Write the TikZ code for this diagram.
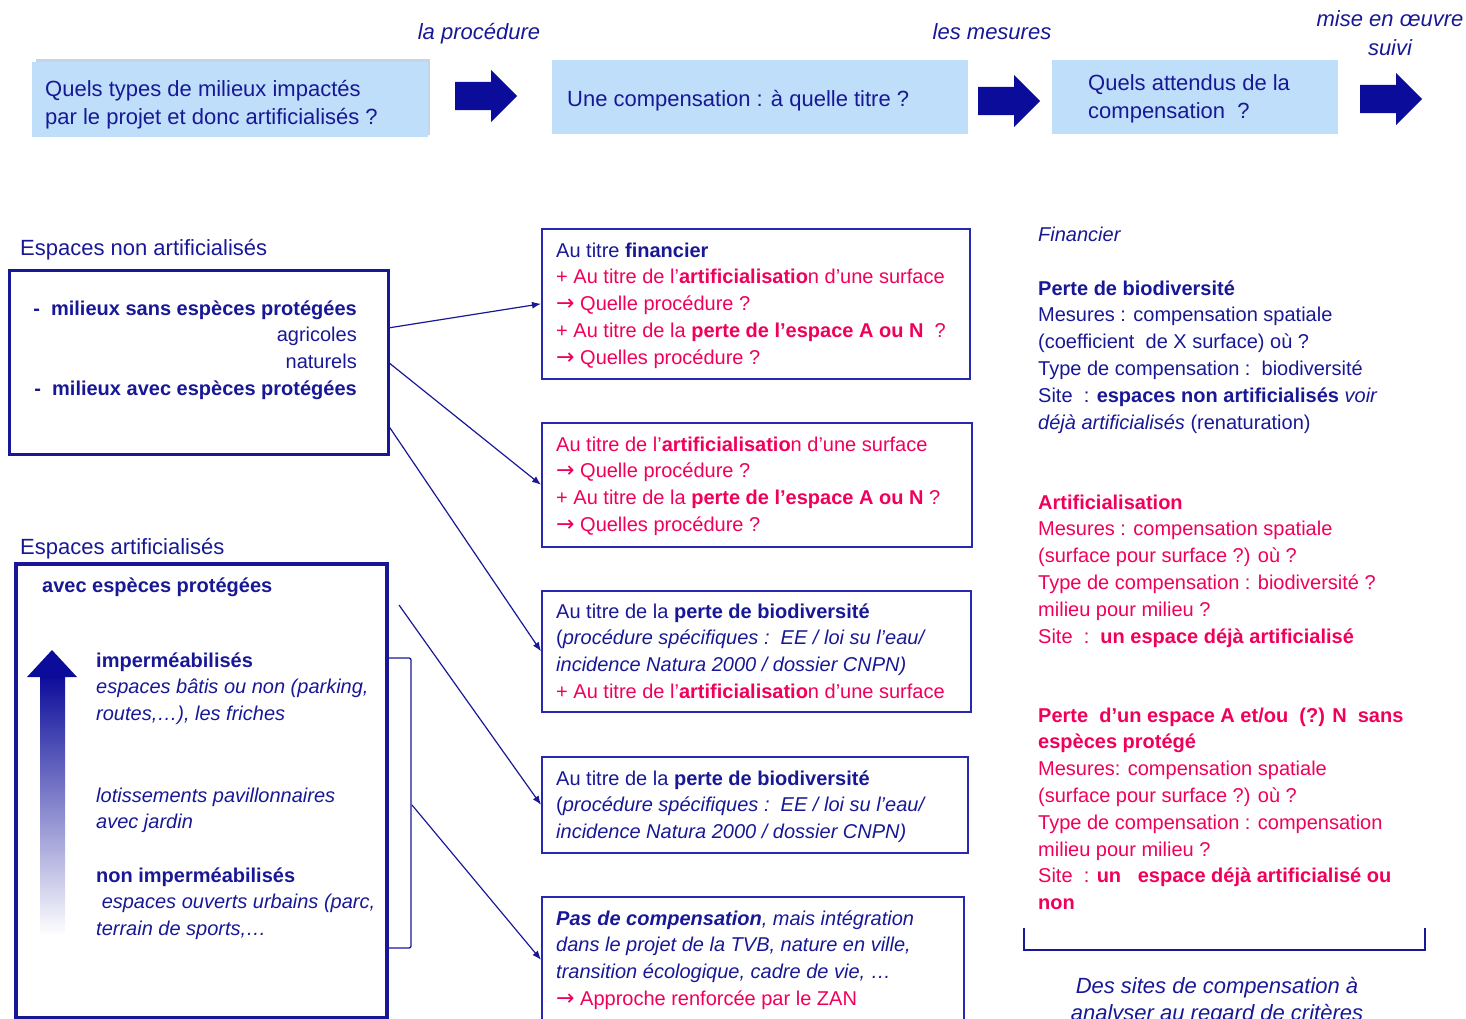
\documentclass[tikz,border=0pt]{standalone}
\usepackage{fontspec}
\setmainfont{Liberation Sans}
\newfontfamily\arrowfont{DejaVu Sans}
\usepackage{xcolor}
\usetikzlibrary{shapes.arrows,arrows.meta}

\definecolor{navy}{RGB}{24,24,150}
\definecolor{pinkred}{RGB}{240,0,90}
\definecolor{paleblue}{RGB}{190,222,250}
\definecolor{shadowblue}{RGB}{198,212,232}
\definecolor{arrowblue}{RGB}{12,12,155}
\definecolor{frameblue}{RGB}{40,40,178}

\newcommand{\rose}[1]{\textcolor{pinkred}{#1}}
\newcommand{\pto}{{\arrowfont\fontsize{22}{26.8}\selectfont →}\ }

\begin{document}
\begin{tikzpicture}[x=1pt, y=-1pt,
  txt/.style={font=\fontsize{20}{26.8}\selectfont, text=navy, inner sep=0pt, align=left, anchor=base west},
  pk/.style={txt, text=pinkred},
  big/.style={font=\fontsize{22}{28}\selectfont, text=navy, inner sep=0pt, align=left, anchor=base west},
  topbox/.style={fill=paleblue, draw=none, anchor=north west, inner sep=0pt},
  midbox/.style={draw=frameblue, line width=1.6pt, anchor=north west, inner sep=0pt},
  thickbox/.style={draw=navy, line width=3pt, anchor=north west, inner sep=0pt},
  bigarrow/.style={single arrow, fill=arrowblue, draw=none, anchor=tail, minimum height=62pt, inner xsep=0pt, inner ysep=14pt, single arrow head extend=12pt, single arrow head indent=0pt},
  link/.style={draw=navy, line width=1.2pt, -{Latex[length=9pt,width=7pt]}}]
\useasboundingbox (0,0) rectangle (1466,1018);

% top row (multi-line nodes sit on the base of their last line)
\node[big, anchor=base, font=\fontsize{22}{28}\selectfont\itshape] (lproc) at (479,39) {la procédure};
\node[big, anchor=base, font=\fontsize{22}{28}\selectfont\itshape] (lmes) at (992,39) {les mesures};
\node[big, anchor=base, align=center, font=\fontsize{22}{29}\selectfont\itshape] (lsuivi) at (1390,55) {mise en œuvre\\suivi};

\fill[shadowblue] (36,59) rectangle (430,135);
\node[topbox, minimum width=396pt, minimum height=75pt] (q1) at (32,62) {};
\node[big] (q1t) at (45,124) {Quels types de milieux impactés\\par le projet et donc artificialisés ?};
\node[topbox, minimum width=416pt, minimum height=74pt] (q2) at (552,60) {};
\node[big] (q2t) at (567,106) {Une compensation : à quelle titre ?};
\node[topbox, minimum width=286pt, minimum height=74pt] (q3) at (1052,60) {};
\node[big] (q3t) at (1088,118) {Quels attendus de la\\compensation\ \ ?};

\node[bigarrow] (a1) at (455,96) {};
\node[bigarrow] (a2) at (978,101) {};
\node[bigarrow] (a3) at (1360,99) {};

% left column
\node[big] (lna) at (20,255) {Espaces non artificialisés};
\node[thickbox, minimum width=379pt, minimum height=184pt] (na) at (8,269) {};
\node[txt, align=right, anchor=base east] (natxt) at (357,395.4) {\textbf{-\ \ milieux sans espèces protégées}\\agricoles\\naturels\\\textbf{-\ \ milieux avec espèces protégées}};

\node[big] (la) at (20,554) {Espaces artificialisés};
\node[thickbox, line width=3.5pt, minimum width=371pt, minimum height=454pt] (ar) at (14,562) {};
\node[txt] (avec) at (42,592) {\textbf{avec espèces protégées}};
\shade[top color=arrowblue, bottom color=white] (40,676) rectangle (65,935);
\fill[arrowblue] (27,677) -- (52,650) -- (77,677) -- cycle;
\node[txt] (imp) at (96,720.6) {\textbf{imperméabilisés}\\\textit{espaces bâtis ou non (parking,}\\\textit{routes,…), les friches}};
\node[txt] (lot) at (96,828.8) {\textit{lotissements pavillonnaires}\\\textit{avec jardin}};
\node[txt] (nonimp) at (96,935.6) {\textbf{non imperméabilisés}\\\textit{\ espaces ouverts urbains (parc,}\\\textit{terrain de sports,…}};
\draw[navy, line width=1.3pt, rounded corners=2pt] (387,658) -- (411,658) -- (411,948) -- (387,948);

% middle column
\node[midbox, minimum width=428pt, minimum height=150pt] (f1) at (541,228) {};
\node[txt] (f1t) at (556,364.2) {Au titre \textbf{financier}\\\rose{+ Au titre de l’\textbf{artificialisatio}n d’une surface}\\\rose{\pto Quelle procédure ?}\\\rose{+ Au titre de la \textbf{perte de l’espace A ou N}\ \ ?}\\\rose{\pto Quelles procédure ?}};
\node[midbox, minimum width=430pt, minimum height=124pt] (f2) at (541,422) {};
\node[txt] (f2t) at (556,531.4) {\rose{Au titre de l’\textbf{artificialisatio}n d’une surface}\\\rose{\pto Quelle procédure ?}\\\rose{+ Au titre de la \textbf{perte de l’espace A ou N} ?}\\\rose{\pto Quelles procédure ?}};
\node[midbox, minimum width=429pt, minimum height=121pt] (f3) at (541,590) {};
\node[txt] (f3t) at (556,698.4) {Au titre de la \textbf{perte de biodiversité}\\(\textit{procédure spécifiques :\ \ EE / loi su l’eau/}\\\textit{incidence Natura 2000 / dossier CNPN)}\\\rose{+ Au titre de l’\textbf{artificialisatio}n d’une surface}};
\node[midbox, minimum width=426pt, minimum height=96pt] (f4) at (541,756) {};
\node[txt] (f4t) at (556,838.6) {Au titre de la \textbf{perte de biodiversité}\\(\textit{procédure spécifiques :\ \ EE / loi su l’eau/}\\\textit{incidence Natura 2000 / dossier CNPN)}};
\node[midbox, minimum width=422pt, minimum height=126pt] (f5) at (541,896) {};
\node[txt] (f5t) at (556,1005.4) {\textit{\textbf{Pas de compensation}, mais intégration}\\\textit{dans le projet de la TVB, nature en ville,}\\\textit{transition écologique, cadre de vie, …}\\\rose{\pto Approche renforcée par le ZAN}};

\coordinate (s1) at (388,328);
\coordinate (s2) at (388,362);
\coordinate (s3) at (388,425);
\coordinate (s4) at (399,605);
\coordinate (s5) at (412,805);
\path (s1) edge[link] (f1.west)
      (s2) edge[link] (f2.west)
      (s3) edge[link] (f3.west)
      (s4) edge[link] (f4.west)
      (s5) edge[link] (f5.west);

% right column
\node[txt] (fin) at (1038,241) {\textit{Financier}};
\node[txt] (bio) at (1038,429) {\textbf{Perte de biodiversité}\\Mesures : compensation spatiale\\(coefficient\ \ de X surface) où ?\\Type de compensation :\ \ biodiversité\\Site\ \ : \textbf{espaces non artificialisés} \textit{voir}\\\textit{déjà artificialisés} (renaturation)};
\node[pk] (art) at (1038,643) {\textbf{Artificialisation}\\Mesures : compensation spatiale\\(surface pour surface ?) où ?\\Type de compensation : biodiversité ?\\milieu pour milieu ?\\Site\ \ :\ \ \textbf{un espace déjà artificialisé}};
\node[pk] (perte) at (1038,909.6) {\textbf{Perte\ \ d’un espace A et/ou\ \ (?) N\ \ sans}\\\textbf{espèces protégé}\\Mesures: compensation spatiale\\(surface pour surface ?) où ?\\Type de compensation : compensation\\milieu pour milieu ?\\Site\ \ : \textbf{un}\ \ \ \textbf{espace déjà artificialisé ou}\\\textbf{non}};
\draw[navy, line width=1.5pt] (1024,928) -- (1024,950) -- (1425,950) -- (1425,928);
\node[big, anchor=base, align=center, font=\fontsize{22}{27}\selectfont\itshape] (sites) at (1217,1020) {Des sites de compensation à\\analyser au regard de critères};
\end{tikzpicture}
\end{document}
